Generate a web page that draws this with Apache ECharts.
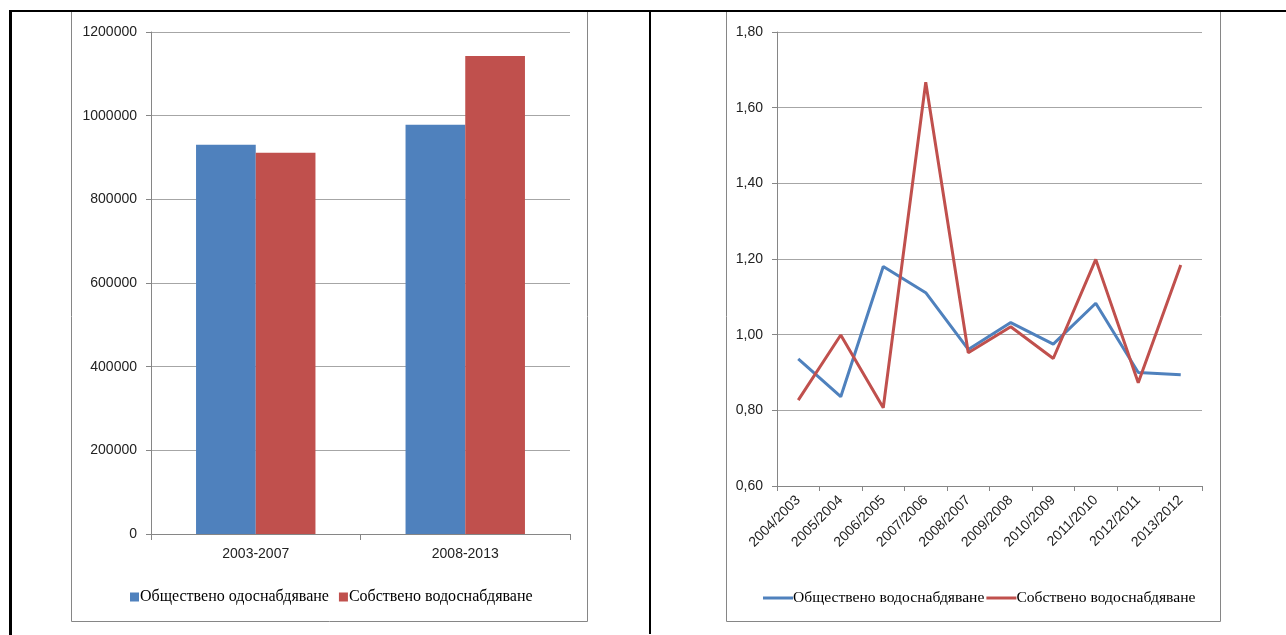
<!DOCTYPE html>
<html>
<head>
<meta charset="utf-8">
<script src="https://cdn.jsdelivr.net/npm/echarts@6/dist/echarts.min.js"></script>
<style>
  html, body { margin: 0; padding: 0; background: #fff; }
  #main { width: 1286px; height: 635px; }
</style>
</head>
<body>
<div id="main"></div>
<script>
// Bar chart: total water use by period
const periods = ['2003-2007', '2008-2013'];
const publicSupply = [930500, 978500];
const ownSupply = [911500, 1142700];
const barLegendNames = ['Обществено одоснабдяване', 'Собствено водоснабдяване'];

// Line chart: year-over-year ratios
const yearPairs = ['2004/2003', '2005/2004', '2006/2005', '2007/2006', '2008/2007',
                   '2009/2008', '2010/2009', '2011/2010', '2012/2011', '2013/2012'];
const publicRatio = [0.936, 0.836, 1.180, 1.111, 0.961, 1.032, 0.975, 1.083, 0.900, 0.894];
const ownRatio = [0.827, 0.999, 0.807, 1.667, 0.952, 1.021, 0.937, 1.199, 0.873, 1.184];
const lineLegendNames = ['Обществено водоснабдяване', 'Собствено водоснабдяване'];

const BLUE = '#4F81BD';
const RED = '#C0504D';
const SANS = '"Liberation Sans", Arial, sans-serif';
const SERIF = '"Liberation Serif", "Times New Roman", serif';

const chart = echarts.init(document.getElementById('main'), null, { renderer: 'canvas' });

const valueAxisCommon = {
  type: 'value',
  axisLine: { show: true, lineStyle: { color: '#868686', width: 1 } },
  axisTick: { show: true, length: 5, lineStyle: { color: '#868686' } },
  splitLine: { show: true, lineStyle: { color: '#A6A6A6', width: 1 } },
  axisLabel: { color: '#222', fontFamily: SANS, fontSize: 14, margin: 14 }
};

chart.setOption({
  animation: false,
  backgroundColor: '#fff',
  grid: [
    { left: 151, top: 32, width: 419, height: 502 },
    { left: 777, top: 32, width: 425, height: 454 }
  ],
  xAxis: [
    {
      type: 'category', gridIndex: 0, data: periods,
      axisLine: { lineStyle: { color: '#868686' } },
      axisTick: { show: true, length: 6, alignWithLabel: false, lineStyle: { color: '#868686' } },
      axisLabel: { color: '#222', fontFamily: SANS, fontSize: 14, margin: 13 }
    },
    {
      type: 'category', gridIndex: 1, data: yearPairs, boundaryGap: true,
      axisLine: { lineStyle: { color: '#868686' } },
      axisTick: { show: true, length: 5, alignWithLabel: false, lineStyle: { color: '#868686' } },
      axisLabel: { color: '#222', fontFamily: SANS, fontSize: 14, rotate: 45, interval: 0, margin: 12 }
    }
  ],
  yAxis: [
    Object.assign({}, valueAxisCommon, {
      gridIndex: 0, min: 0, max: 1200000, interval: 200000,
      axisLabel: Object.assign({}, valueAxisCommon.axisLabel, { formatter: v => String(v) })
    }),
    Object.assign({}, valueAxisCommon, {
      gridIndex: 1, min: 0.6, max: 1.8, interval: 0.2,
      axisLabel: Object.assign({}, valueAxisCommon.axisLabel, {
        formatter: v => v.toFixed(2).replace('.', ',')
      })
    })
  ],
  legend: [
    {
      left: 125, top: 584, itemGap: 10, itemWidth: 9, itemHeight: 9,
      textStyle: { fontFamily: SERIF, fontSize: 16, color: '#000', padding: [0, 0, 0, -4] },
      data: barLegendNames.map((n, i) => ({ name: n, icon: 'rect', itemStyle: { color: i ? RED : BLUE } }))
    },
    {
      left: 758, top: 585, itemGap: 2, itemWidth: 30, itemHeight: 3,
      textStyle: { fontFamily: SERIF, fontSize: 15.6, color: '#000', padding: [0, 0, 0, -5] },
      data: lineLegendNames.map((n, i) => ({ name: n, icon: 'rect', itemStyle: { color: i ? RED : BLUE } }))
    }
  ],
  series: [
    {
      name: barLegendNames[0], type: 'bar', xAxisIndex: 0, yAxisIndex: 0,
      data: publicSupply, barGap: '0%', barCategoryGap: '43%',
      itemStyle: { color: BLUE }
    },
    {
      name: barLegendNames[1], type: 'bar', xAxisIndex: 0, yAxisIndex: 0,
      data: ownSupply, barGap: '0%', barCategoryGap: '43%',
      itemStyle: { color: RED }
    },
    {
      name: lineLegendNames[0], type: 'line', xAxisIndex: 1, yAxisIndex: 1,
      data: publicRatio, symbol: 'none',
      lineStyle: { color: BLUE, width: 3 }, itemStyle: { color: BLUE }
    },
    {
      name: lineLegendNames[1], type: 'line', xAxisIndex: 1, yAxisIndex: 1,
      data: ownRatio, symbol: 'none',
      lineStyle: { color: RED, width: 3 }, itemStyle: { color: RED }
    }
  ],
  graphic: [
    // chart frames
    { type: 'rect', z: 0, shape: { x: 71.5, y: 11.5, width: 516, height: 610 },
      style: { fill: 'none', stroke: '#868686', lineWidth: 1 } },
    { type: 'rect', z: 0, shape: { x: 726.5, y: 11.5, width: 494, height: 610 },
      style: { fill: 'none', stroke: '#868686', lineWidth: 1 } },
    // table rules
    { type: 'line', z: 100, shape: { x1: 9, y1: 11, x2: 1286, y2: 11 },
      style: { stroke: '#000', lineWidth: 2 } },
    { type: 'line', z: 100, shape: { x1: 10.5, y1: 10, x2: 10.5, y2: 635 },
      style: { stroke: '#000', lineWidth: 3 } },
    { type: 'line', z: 100, shape: { x1: 650, y1: 10, x2: 650, y2: 634 },
      style: { stroke: '#000', lineWidth: 2 } }
  ]
});
</script>
</body>
</html>
